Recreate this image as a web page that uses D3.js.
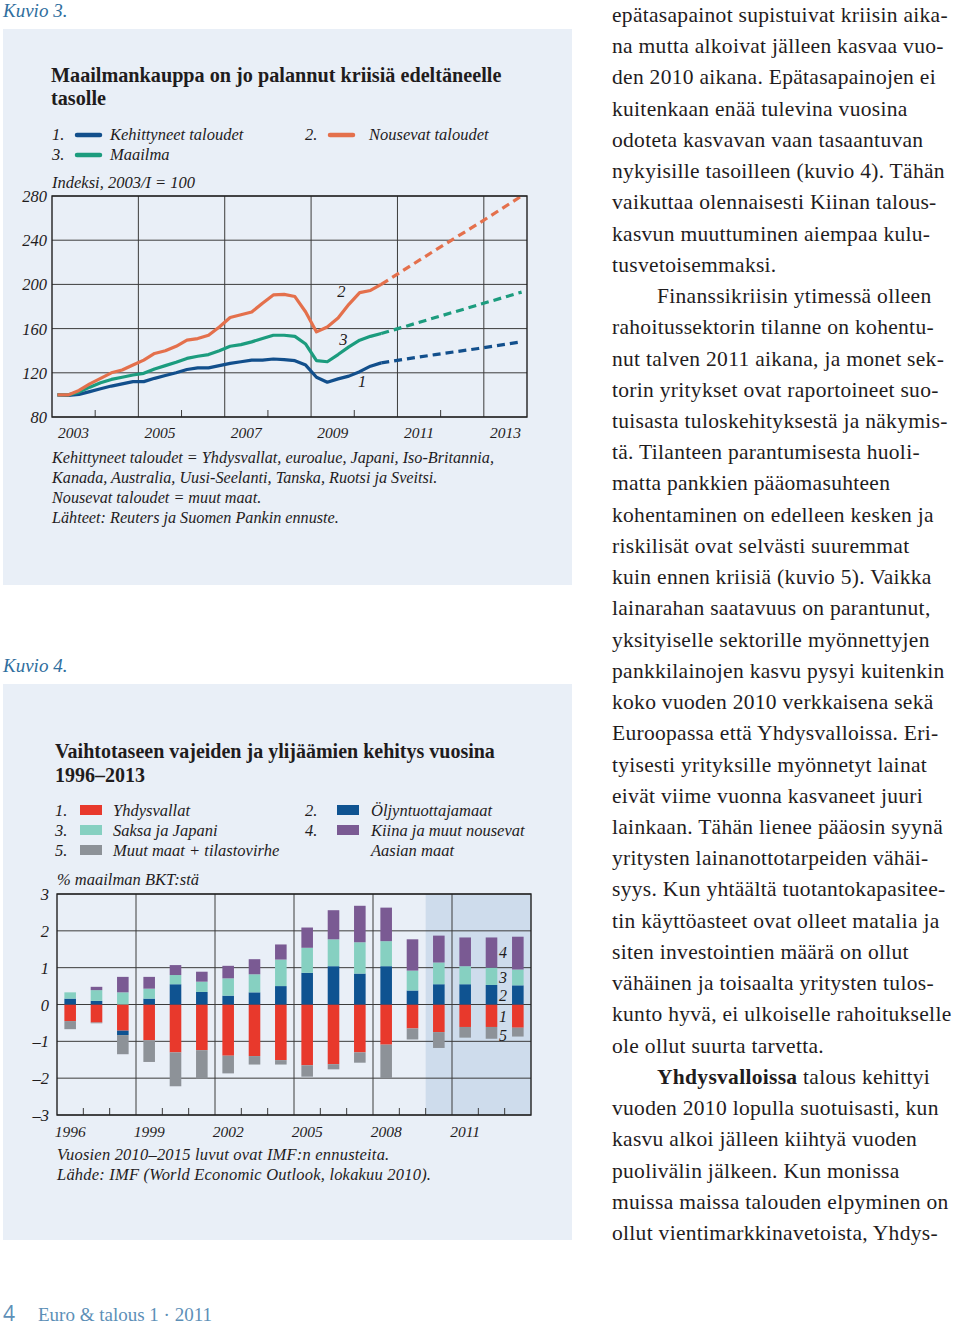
<!DOCTYPE html>
<html>
<head>
<meta charset="utf-8">
<script src="https://cdn.jsdelivr.net/npm/d3@7"></script>
<style>
  body { margin: 0; background: #fff; }
  svg { display: block; }
  text { font-family: "Liberation Serif", "DejaVu Serif", serif; }
</style>
</head>
<body>
<div id="page"></div>
<script>
// ---- Kuvio 3: world trade index, quarterly 2003/I - 2010/III ----
var firstYear = 2003;
var advanced = [100, 99.5, 100.5, 103, 105.5, 108, 110, 112, 112, 115, 117.5, 120, 123, 124.5, 124.5, 126.5,
                128.5, 130, 131.5, 131.5, 132.5, 132, 131, 127, 116, 111.5, 114.5, 117, 121, 126, 129];
var emerging = [100, 100, 104, 110, 115, 120, 122.5, 127, 131.5, 137.5, 140, 144, 149.5, 151, 154, 161.5,
                170, 172.5, 175, 183, 190.5, 191, 189, 175, 157, 161.5, 169.5, 182, 192.5, 194.5, 200];
var world = [100, 100, 102.5, 107, 111, 114, 116, 118, 119.5, 123.5, 126.5, 129.5, 133, 135, 136.5, 140,
             144, 145.5, 148, 151, 154, 154, 153, 146, 131, 130, 136.5, 143.5, 149.5, 153, 155.5];
// forecast (Suomen Pankin ennuste), quarter mid-points
var forecastTimes = [2010.625, 2011.875, 2012.875, 2013.875];
var advancedF = [129, 136.5, 142, 148];
var emergingF = [200, 231, 255, 280];
var worldF = [155.5, 170, 181.5, 193];
var lineYTicks = [80, 120, 160, 200, 240, 280];
var lineXLabels = [2003, 2005, 2007, 2009, 2011, 2013];

// ---- Kuvio 4: current account balances, % of world GDP ----
var years = d3.range(1996, 2014);
var usa   = [-0.45, -0.49, -0.71, -0.97, -1.30, -1.24, -1.39, -1.40, -1.51, -1.65, -1.62, -1.30, -1.09, -0.65, -0.75, -0.61, -0.61, -0.63];
var oil   = [0.16, 0.10, -0.12, 0.16, 0.55, 0.34, 0.24, 0.33, 0.50, 0.86, 1.04, 0.84, 1.04, 0.38, 0.55, 0.55, 0.53, 0.52];
var gerJap = [0.17, 0.29, 0.33, 0.27, 0.25, 0.28, 0.47, 0.49, 0.72, 0.68, 0.73, 0.85, 0.68, 0.54, 0.59, 0.49, 0.47, 0.43];
var china = [0.00, 0.09, 0.42, 0.32, 0.27, 0.27, 0.34, 0.41, 0.41, 0.55, 0.79, 0.99, 0.91, 0.85, 0.73, 0.78, 0.82, 0.89];
var other = [-0.22, -0.02, -0.52, -0.59, -0.92, -0.77, -0.48, -0.23, -0.12, -0.31, -0.14, -0.28, -0.91, -0.30, -0.43, -0.29, -0.32, -0.24];
var barYTicks = [-3, -2, -1, 0, 1, 2, 3];
var barXLabels = [1996, 1999, 2002, 2005, 2008, 2011];
var forecastFrom = 2010;

// ---- body text column ----
var bodyLines = [
  "epätasapainot supistuivat kriisin aika-",
  "na mutta alkoivat jälleen kasvaa vuo-",
  "den 2010 aikana. Epätasapainojen ei",
  "kuitenkaan enää tulevina vuosina",
  "odoteta kasvavan vaan tasaantuvan",
  "nykyisille tasoilleen (kuvio 4). Tähän",
  "vaikuttaa olennaisesti Kiinan talous-",
  "kasvun muuttuminen aiempaa kulu-",
  "tusvetoisemmaksi.",
  "\tFinanssikriisin ytimessä olleen",
  "rahoitussektorin tilanne on kohentu-",
  "nut talven 2011 aikana, ja monet sek-",
  "torin yritykset ovat raportoineet suo-",
  "tuisasta tuloskehityksestä ja näkymis-",
  "tä. Tilanteen parantumisesta huoli-",
  "matta pankkien pääomasuhteen",
  "kohentaminen on edelleen kesken ja",
  "riskilisät ovat selvästi suuremmat",
  "kuin ennen kriisiä (kuvio 5). Vaikka",
  "lainarahan saatavuus on parantunut,",
  "yksityiselle sektorille myönnettyjen",
  "pankkilainojen kasvu pysyi kuitenkin",
  "koko vuoden 2010 verkkaisena sekä",
  "Euroopassa että Yhdysvalloissa. Eri-",
  "tyisesti yrityksille myönnetyt lainat",
  "eivät viime vuonna kasvaneet juuri",
  "lainkaan. Tähän lienee pääosin syynä",
  "yritysten lainanottotarpeiden vähäi-",
  "syys. Kun yhtäältä tuotantokapasitee-",
  "tin käyttöasteet ovat olleet matalia ja",
  "siten investointien määrä on ollut",
  "vähäinen ja toisaalta yritysten tulos-",
  "kunto hyvä, ei ulkoiselle rahoitukselle",
  "ole ollut suurta tarvetta.",
  "\t*Yhdysvalloissa* talous kehittyi",
  "vuoden 2010 lopulla suotuisasti, kun",
  "kasvu alkoi jälleen kiihtyä vuoden",
  "puolivälin jälkeen. Kun monissa",
  "muissa maissa talouden elpyminen on",
  "ollut vientimarkkinavetoista, Yhdys-"
];

var panelFill = "#e9eff7",
    gridColor = "#3c3c3c",
    kuvioColor = "#2f6e9e",
    ink = "#1f1c1d";

var svg = d3.select("#page").append("svg")
    .attr("width", 960)
    .attr("height", 1329);

svg.append("rect").attr("width", 960).attr("height", 1329).attr("fill", "#fff");

// ================= Kuvio 3 =================
svg.append("text").attr("x", 3).attr("y", 17)
  .style("font-style", "italic").style("font-size", "19px").attr("fill", kuvioColor)
  .text("Kuvio 3.");

svg.append("rect").attr("x", 3).attr("y", 29).attr("width", 569).attr("height", 556).attr("fill", panelFill);

var t1 = svg.append("g");
t1.append("text").attr("x", 51).attr("y", 82).text("Maailmankauppa on jo palannut kriisiä edeltäneelle");
t1.append("text").attr("x", 51).attr("y", 105).text("tasolle");
t1.selectAll("text").style("font-size", "20.2px").style("font-weight", "bold").attr("fill", ink);

var lineColors = {adv: "#124f8c", emg: "#e4704c", wld: "#1c9c7e"};

// legend
var leg1 = [
  {n: "1.", label: "Kehittyneet taloudet", c: lineColors.adv, x: 52, y: 140, tx: 58},
  {n: "2.", label: "Nousevat taloudet", c: lineColors.emg, x: 305, y: 140, tx: 64},
  {n: "3.", label: "Maailma", c: lineColors.wld, x: 52, y: 160, tx: 58}
];
var lg1 = svg.append("g").selectAll("g").data(leg1).enter().append("g")
  .attr("transform", function(d) { return "translate(" + d.x + "," + d.y + ")"; });
lg1.append("text").text(function(d) { return d.n; })
  .style("font-style", "italic").style("font-size", "16.5px").attr("fill", ink);
lg1.append("line").attr("x1", 25).attr("x2", 48).attr("y1", -5).attr("y2", -5)
  .attr("stroke", function(d) { return d.c; }).attr("stroke-width", 4.5).attr("stroke-linecap", "round");
lg1.append("text").attr("x", function(d) { return d.tx; }).text(function(d) { return d.label; })
  .style("font-style", "italic").style("font-size", "16.5px").attr("fill", ink);

svg.append("text").attr("x", 52).attr("y", 188).text("Indeksi, 2003/I = 100")
  .style("font-style", "italic").style("font-size", "16.5px").attr("fill", ink);

// scales
var x1 = d3.scaleLinear().domain([2003, 2014]).range([52, 527]);
var y1 = d3.scaleLinear().domain([80, 280]).range([417, 196]);

var g1 = svg.append("g");
// horizontal grid
g1.selectAll(".hg").data(lineYTicks).enter().append("line")
  .attr("x1", x1(2003)).attr("x2", x1(2014))
  .attr("y1", function(d) { return y1(d); }).attr("y2", function(d) { return y1(d); })
  .attr("stroke", gridColor).attr("stroke-width", 1);
// vertical grid at odd years
g1.selectAll(".vg").data([2005, 2007, 2009, 2011, 2013]).enter().append("line")
  .attr("x1", function(d) { return x1(d); }).attr("x2", function(d) { return x1(d); })
  .attr("y1", y1(280)).attr("y2", y1(80))
  .attr("stroke", gridColor).attr("stroke-width", 1);
// small ticks at even years
g1.selectAll(".tk").data([2004, 2006, 2008, 2010, 2012]).enter().append("line")
  .attr("x1", function(d) { return x1(d); }).attr("x2", function(d) { return x1(d); })
  .attr("y1", y1(80)).attr("y2", y1(80) - 7)
  .attr("stroke", gridColor).attr("stroke-width", 1);

// series
function quarterly(vals) {
  return vals.map(function(v, i) { return {t: firstYear + (i + 0.5) / 4, v: v}; });
}
function fc(vals) {
  return vals.map(function(v, i) { return {t: forecastTimes[i], v: v}; });
}
var line1 = d3.line().x(function(d) { return x1(d.t); }).y(function(d) { return y1(d.v); });

var series1 = [
  {hist: advanced, fut: advancedF, c: lineColors.adv},
  {hist: world, fut: worldF, c: lineColors.wld},
  {hist: emerging, fut: emergingF, c: lineColors.emg}
];
series1.forEach(function(s) {
  g1.append("path").attr("d", line1(fc(s.fut))).attr("fill", "none")
    .attr("stroke", s.c).attr("stroke-width", 3.2).attr("stroke-dasharray", "8,5");
  g1.append("path").attr("d", line1(quarterly(s.hist))).attr("fill", "none")
    .attr("stroke", s.c).attr("stroke-width", 3.2).attr("stroke-linejoin", "round");
});

// frame
g1.append("rect").attr("x", x1(2003)).attr("y", y1(280))
  .attr("width", x1(2014) - x1(2003)).attr("height", y1(80) - y1(280))
  .attr("fill", "none").attr("stroke", "#222").attr("stroke-width", 1.4);

// series numbers
var num1 = [{n: "2", t: 2009.7, v: 189}, {n: "3", t: 2009.75, v: 145}, {n: "1", t: 2010.18, v: 107}];
g1.selectAll(".num").data(num1).enter().append("text")
  .attr("x", function(d) { return x1(d.t); }).attr("y", function(d) { return y1(d.v); })
  .attr("text-anchor", "middle").text(function(d) { return d.n; })
  .style("font-style", "italic").style("font-size", "16.5px").attr("fill", ink);

// axis labels
g1.selectAll(".yl").data(lineYTicks).enter().append("text")
  .attr("x", 47).attr("y", function(d) { return y1(d) + 6; })
  .attr("text-anchor", "end").text(function(d) { return d; })
  .style("font-style", "italic").style("font-size", "16.5px").attr("fill", ink);
g1.selectAll(".xl").data(lineXLabels).enter().append("text")
  .attr("x", function(d) { return x1(d + 0.5); }).attr("y", 438)
  .attr("text-anchor", "middle").text(function(d) { return d; })
  .style("font-style", "italic").style("font-size", "15.5px").attr("fill", ink);

var notes1 = [
  "Kehittyneet taloudet = Yhdysvallat, euroalue, Japani, Iso-Britannia,",
  "Kanada, Australia, Uusi-Seelanti, Tanska, Ruotsi ja Sveitsi.",
  "Nousevat taloudet = muut maat.",
  "Lähteet: Reuters ja Suomen Pankin ennuste."
];
svg.append("g").selectAll("text").data(notes1).enter().append("text")
  .attr("x", 52).attr("y", function(d, i) { return 463 + i * 20; })
  .text(function(d) { return d; })
  .style("font-style", "italic").style("font-size", "16.2px").attr("fill", ink);

// ================= Kuvio 4 =================
svg.append("text").attr("x", 3).attr("y", 672)
  .style("font-style", "italic").style("font-size", "19px").attr("fill", kuvioColor)
  .text("Kuvio 4.");

svg.append("rect").attr("x", 3).attr("y", 684).attr("width", 569).attr("height", 556).attr("fill", panelFill);

var t2 = svg.append("g");
t2.append("text").attr("x", 55).attr("y", 758).text("Vaihtotaseen vajeiden ja ylijäämien kehitys vuosina");
t2.append("text").attr("x", 55).attr("y", 782).text("1996–2013");
t2.selectAll("text").style("font-size", "20px").style("font-weight", "bold").attr("fill", ink);

var barColors = {usa: "#e8392c", oil: "#0f5391", gerJap: "#86d0c1", china: "#7a5a93", other: "#8d9298"};

var leg2 = [
  {n: "1.", label: ["Yhdysvallat"], c: barColors.usa, x: 55, y: 816, sx: 25, tx: 58},
  {n: "2.", label: ["Öljyntuottajamaat"], c: barColors.oil, x: 305, y: 816, sx: 32, tx: 66},
  {n: "3.", label: ["Saksa ja Japani"], c: barColors.gerJap, x: 55, y: 836, sx: 25, tx: 58},
  {n: "4.", label: ["Kiina ja muut nousevat", "Aasian maat"], c: barColors.china, x: 305, y: 836, sx: 32, tx: 66},
  {n: "5.", label: ["Muut maat + tilastovirhe"], c: barColors.other, x: 55, y: 856, sx: 25, tx: 58}
];
var lg2 = svg.append("g").selectAll("g").data(leg2).enter().append("g")
  .attr("transform", function(d) { return "translate(" + d.x + "," + d.y + ")"; });
lg2.append("text").text(function(d) { return d.n; })
  .style("font-style", "italic").style("font-size", "16.5px").attr("fill", ink);
lg2.append("rect").attr("x", function(d) { return d.sx; }).attr("y", -11).attr("width", 22).attr("height", 10)
  .attr("fill", function(d) { return d.c; });
lg2.each(function(d) {
  var g = d3.select(this);
  d.label.forEach(function(l, i) {
    g.append("text").attr("x", d.tx).attr("y", i * 20).text(l)
      .style("font-style", "italic").style("font-size", "16.5px").attr("fill", ink);
  });
});

svg.append("text").attr("x", 57).attr("y", 885).text("% maailman BKT:stä")
  .style("font-style", "italic").style("font-size", "16.5px").attr("fill", ink);

var yr = d3.scaleLinear().domain([1996, 2014]).range([57, 531]);
var xb = d3.scaleBand().domain(years).range([57, 531]).paddingInner(0.56).paddingOuter(0.28);
var y2 = d3.scaleLinear().domain([-3, 3]).range([1115, 894]);

var g2 = svg.append("g");
// forecast shading
g2.append("rect").attr("x", yr(forecastFrom)).attr("y", y2(3))
  .attr("width", yr(2014) - yr(forecastFrom)).attr("height", y2(-3) - y2(3))
  .attr("fill", "#cedcec");

g2.selectAll(".hg").data(barYTicks).enter().append("line")
  .attr("x1", yr(1996)).attr("x2", yr(2014))
  .attr("y1", function(d) { return y2(d); }).attr("y2", function(d) { return y2(d); })
  .attr("stroke", gridColor).attr("stroke-width", 1);
g2.selectAll(".vg").data([1999, 2002, 2005, 2008, 2011]).enter().append("line")
  .attr("x1", function(d) { return yr(d); }).attr("x2", function(d) { return yr(d); })
  .attr("y1", y2(3)).attr("y2", y2(-3))
  .attr("stroke", gridColor).attr("stroke-width", 1);
g2.selectAll(".tk").data(years.filter(function(y) { return y > 1996 && (y - 1996) % 3 !== 0; })).enter().append("line")
  .attr("x1", function(d) { return yr(d); }).attr("x2", function(d) { return yr(d); })
  .attr("y1", y2(-3)).attr("y2", y2(-3) - 7)
  .attr("stroke", gridColor).attr("stroke-width", 1);

// stacked bars
var rows = years.map(function(y, i) {
  return {year: y, usa: usa[i], oil: oil[i], gerJap: gerJap[i], china: china[i], other: other[i]};
});
var keys = ["usa", "oil", "gerJap", "china", "other"];
var stacked = d3.stack().keys(keys).offset(d3.stackOffsetDiverging)(rows);

g2.selectAll(".layer").data(stacked).enter().append("g")
  .attr("fill", function(d) { return barColors[d.key]; })
  .selectAll("rect").data(function(d) { return d; }).enter().append("rect")
    .attr("x", function(d) { return xb(d.data.year); })
    .attr("width", xb.bandwidth())
    .attr("y", function(d) { return y2(d[1]); })
    .attr("height", function(d) { return Math.max(0, y2(d[0]) - y2(d[1])); });

g2.append("rect").attr("x", yr(1996)).attr("y", y2(3))
  .attr("width", yr(2014) - yr(1996)).attr("height", y2(-3) - y2(3))
  .attr("fill", "none").attr("stroke", "#222").attr("stroke-width", 1.4);

// segment numbers at the last bar
var segNums = [{n: "4", v: 1.43}, {n: "3", v: 0.75}, {n: "2", v: 0.25}, {n: "1", v: -0.31}, {n: "5", v: -0.82}];
g2.selectAll(".sn").data(segNums).enter().append("text")
  .attr("x", xb(2013) - 9).attr("y", function(d) { return y2(d.v) + 6; })
  .attr("text-anchor", "middle").text(function(d) { return d.n; })
  .style("font-style", "italic").style("font-size", "16px").attr("fill", ink);

g2.selectAll(".yl").data(barYTicks).enter().append("text")
  .attr("x", 49).attr("y", function(d) { return y2(d) + 6; })
  .attr("text-anchor", "end").text(function(d) { return d < 0 ? "–" + (-d) : d; })
  .style("font-style", "italic").style("font-size", "16.5px").attr("fill", ink);
g2.selectAll(".xl").data(barXLabels).enter().append("text")
  .attr("x", function(d) { return yr(d + 0.5); }).attr("y", 1137)
  .attr("text-anchor", "middle").text(function(d) { return d; })
  .style("font-style", "italic").style("font-size", "15.5px").attr("fill", ink);

var notes2 = [
  "Vuosien 2010–2015 luvut ovat IMF:n ennusteita.",
  "Lähde: IMF (World Economic Outlook, lokakuu 2010)."
];
svg.append("g").selectAll("text").data(notes2).enter().append("text")
  .attr("x", 57).attr("y", function(d, i) { return 1160 + i * 20; })
  .text(function(d) { return d; })
  .style("font-style", "italic").style("font-size", "16.5px").style("letter-spacing", "0.2px").attr("fill", ink);

// ================= footer =================
svg.append("text").attr("x", 3).attr("y", 1321).text("4")
  .style("font-family", "'Open Sans', sans-serif").style("font-size", "21px").attr("fill", "#5d8fb7");
svg.append("text").attr("x", 38).attr("y", 1321).text("Euro & talous 1 · 2011")
  .style("font-size", "19px").attr("fill", "#5d8fb7");

// ================= body text =================
var body = svg.append("g").style("font-size", "21.5px").style("letter-spacing", "0.3px").attr("fill", ink);
bodyLines.forEach(function(l, i) {
  var indent = l.charAt(0) === "\t";
  var s = indent ? l.slice(1) : l;
  var t = body.append("text").attr("x", indent ? 657 : 612).attr("y", 22 + i * 31.23);
  var m = s.match(/^\*(.+?)\*(.*)$/);
  if (m) {
    t.append("tspan").style("font-weight", "bold").text(m[1]);
    t.append("tspan").text(m[2]);
  } else {
    t.text(s);
  }
});
</script>
</body>
</html>
